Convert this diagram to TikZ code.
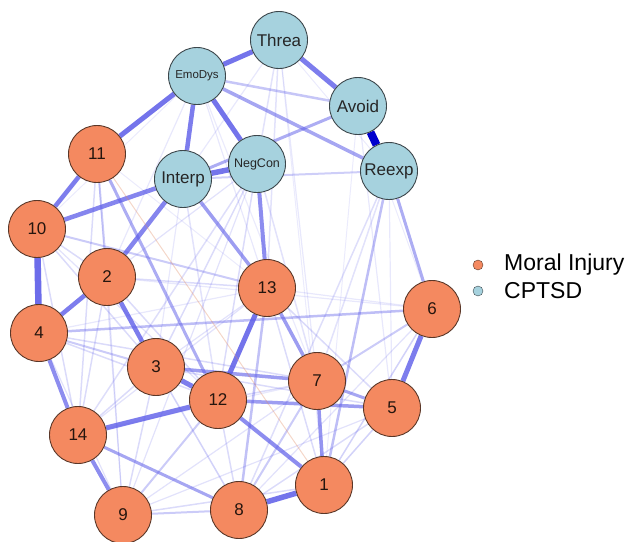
\documentclass[tikz,border=0pt]{standalone}
\usepackage{fontspec}
\setmainfont{Liberation Sans}
\usetikzlibrary{backgrounds}
\definecolor{mi}{RGB}{244,137,96}
\definecolor{cp}{RGB}{166,210,222}
\definecolor{mib}{RGB}{90,55,40}
\definecolor{cpb}{RGB}{60,70,75}
\definecolor{edgeb}{RGB}{92,92,232}
\definecolor{edgestrong}{RGB}{0,0,205}
\definecolor{edgeneg}{RGB}{225,140,100}
\begin{document}
\begin{tikzpicture}[x=1pt,y=-1pt,
  nd/.style={circle,line width=0.9pt,minimum size=57pt,inner sep=0pt,font=\fontsize{17}{17}\selectfont},
  mnode/.style={nd,draw=mib,fill=mi,text=black!85!mi},
  cnode/.style={nd,draw=cpb,fill=cp,text=black!85},
  ed/.style={draw=edgeb}]
\useasboundingbox (0,0) rectangle (632,541);
% CPTSD nodes
\node[cnode] (Threa) at (279,40) {Threa};
\node[cnode,font=\fontsize{11.5}{12}\selectfont] (EmoDys) at (197,76) {EmoDys};
\node[cnode] (Avoid) at (358,106) {Avoid};
\node[cnode] (Reexp) at (389,171) {Reexp};
\node[cnode,font=\fontsize{12.5}{13}\selectfont] (NegCon) at (257,164) {NegCon};
\node[cnode] (Interp) at (183,179) {Interp};
% Moral injury nodes
\node[mnode] (m11) at (97,154) {11};
\node[mnode] (m10) at (37,229) {10};
\node[mnode] (m2) at (107,277) {2};
\node[mnode] (m13) at (267,288) {13};
\node[mnode] (m6) at (432,309) {6};
\node[mnode] (m4) at (39,333) {4};
\node[mnode] (m3) at (156,367) {3};
\node[mnode] (m12) at (218,400) {12};
\node[mnode] (m7) at (317,381) {7};
\node[mnode] (m5) at (392,408) {5};
\node[mnode] (m14) at (78,435) {14};
\node[mnode] (m1) at (324,485) {1};
\node[mnode] (m8) at (239,510) {8};
\node[mnode] (m9) at (123,515) {9};
% legend
\node[circle,draw=mib,fill=mi,minimum size=10pt,inner sep=0pt] (lg1) at (478,265) {};
\node[circle,draw=cpb,fill=cp,minimum size=10pt,inner sep=0pt] (lg2) at (478,291) {};
\node[anchor=west,inner sep=0pt,font=\fontsize{23}{23}\selectfont] (lt1) at (504,265) {Moral Injury};
\node[anchor=west,inner sep=0pt,font=\fontsize{23}{23}\selectfont] (lt2) at (504,291) {CPTSD};
\begin{pgfonlayer}{background}
% faint edges
\foreach \a/\b/\w/\o in {
  Threa/NegCon/1.5/0.18, Threa/Interp/1.2/0.14, Threa/m13/1.5/0.18, Threa/m7/1.2/0.14,
  Threa/m1/1/0.12, Threa/Reexp/1/0.12, EmoDys/m13/1.2/0.14, EmoDys/m2/1.2/0.14,
  EmoDys/m10/1/0.12, EmoDys/m7/1.2/0.12, Reexp/m8/1.5/0.2, Reexp/m7/1.5/0.18,
  Reexp/m5/1.2/0.14, Avoid/m5/1.2/0.14, Avoid/m6/1/0.12, Avoid/m1/1/0.12,
  NegCon/m14/1.5/0.2, NegCon/m3/1.5/0.22, NegCon/m12/1.5/0.22, NegCon/m9/1.2/0.18,
  NegCon/m7/1.5/0.18, NegCon/m2/1.2/0.18, Interp/m12/1.5/0.18, Interp/m3/1.2/0.14,
  m11/m2/2/0.32, m11/m14/1.5/0.22, m11/m9/1.2/0.18, m11/m13/1/0.12,
  m10/m2/1.5/0.22, m10/m3/1.5/0.22, m10/m12/1.2/0.18, m10/m14/1.5/0.22, m10/m13/2/0.32,
  m2/m13/1.5/0.22, m2/m6/1.2/0.14, m2/m14/1.5/0.22, m2/m9/1.2/0.18, m2/m12/1.5/0.22,
  m4/m3/2/0.32, m4/m12/1.5/0.22, m4/m7/1.5/0.22, m4/m9/1.2/0.18, m4/m13/1.2/0.14,
  m14/m3/1.5/0.22, m14/m13/1.2/0.18, m14/m7/1.2/0.14,
  m3/m9/1.5/0.22, m3/m8/1.5/0.28, m3/m13/1.2/0.18, m3/m5/1.5/0.22,
  m12/m9/2/0.32, m12/m8/1.5/0.22, m12/m7/1.5/0.22,
  m9/m8/2/0.32, m9/m1/1.5/0.22, m9/m5/1.2/0.18, m9/m7/1.2/0.18,
  m8/m13/2.5/0.38, m8/m7/2/0.32, m8/m5/1.5/0.22, m8/m6/1.2/0.18,
  m1/m5/1.5/0.28, m1/m6/1.5/0.28, m1/m13/1.5/0.22,
  m7/m6/2/0.32, m13/m5/1.5/0.22, m13/m6/1.2/0.14}
  \draw[ed,line width=\w pt,draw opacity=\o] (\a) -- (\b);
% medium and strong edges
\foreach \a/\b/\w/\o in {
  Threa/EmoDys/5/0.85, Threa/Avoid/5/0.8, EmoDys/m11/5/0.85, EmoDys/NegCon/5/0.85,
  EmoDys/Interp/4.5/0.8, EmoDys/Reexp/3.5/0.55, EmoDys/Avoid/2.5/0.35,
  Interp/NegCon/5.5/0.85, Interp/m10/4.5/0.75, Interp/m2/4.5/0.75, Interp/m13/3.5/0.6,
  NegCon/m13/4/0.7, Interp/Avoid/3/0.5, Interp/Reexp/2/0.3,
  m11/m10/4.5/0.8, m10/m4/6.5/0.9, m2/m4/4.5/0.8, m2/m3/4.5/0.8,
  m4/m14/4/0.7, m14/m9/4/0.7, m14/m12/5/0.8, m14/m8/3/0.55,
  m3/m12/5/0.8, m3/m7/3.5/0.6, m12/m13/5/0.85, m12/m5/3.5/0.6, m12/m1/4/0.7,
  m8/m1/5.5/0.85, m7/m1/3.5/0.65, m7/m5/3/0.55, m6/m5/5/0.8, m6/Reexp/3/0.5,
  m13/m7/3.5/0.6, m11/m12/3/0.5, Reexp/m1/2.5/0.4, m4/m6/2.5/0.4}
  \draw[ed,line width=\w pt,draw opacity=\o] (\a) -- (\b);
\draw[draw=edgeneg,line width=1pt,draw opacity=0.35] (m11) -- (m1);
\draw[draw=edgestrong,line width=8pt] (Avoid) -- (Reexp);
\end{pgfonlayer}
\end{tikzpicture}
\end{document}
